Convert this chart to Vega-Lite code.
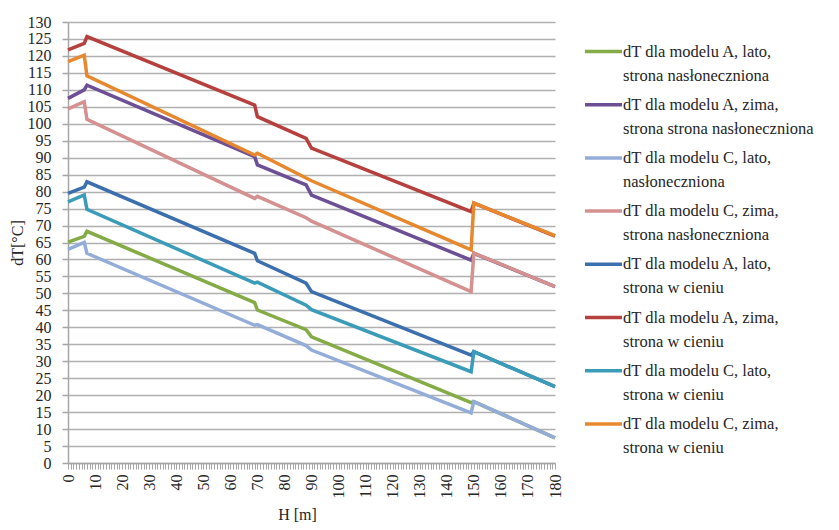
{
  "$schema": "https://vega.github.io/schema/vega-lite/v6.json",
  "width": 487,
  "height": 441,
  "autosize": {"type": "none"},
  "padding": {"left": 68, "top": 22, "right": 284, "bottom": 67},
  "background": "white",
  "config": {
    "view": {"stroke": null},
    "font": "'Liberation Serif', 'DejaVu Serif', serif",
    "axis": {"labelFont": "'Liberation Serif', 'DejaVu Serif', serif", "titleFont": "'Liberation Serif', 'DejaVu Serif', serif"},
    "legend": {"labelFont": "'Liberation Serif', 'DejaVu Serif', serif", "titleFont": "'Liberation Serif', 'DejaVu Serif', serif"}
  },
  "data": {"values": [
    {"H": 0, "a1": 65.1, "a2": 107.5, "a3": 63.0, "a4": 104.4, "a5": 79.5, "a6": 121.8, "a7": 77.0, "a8": 118.3},
    {"H": 6, "a1": 66.8, "a2": 110.0, "a3": 65.0, "a4": 106.5, "a5": 81.3, "a6": 123.7, "a7": 79.0, "a8": 120.2},
    {"H": 7, "a1": 68.3, "a2": 111.4, "a3": 61.8, "a4": 101.3, "a5": 82.9, "a6": 125.7, "a7": 74.8, "a8": 114.1},
    {"H": 69, "a1": 47.3, "a2": 90.3, "a3": 40.6, "a4": 78.0, "a5": 61.8, "a6": 105.5, "a7": 53.0, "a8": 90.8},
    {"H": 70, "a1": 45.1, "a2": 87.9, "a3": 40.8, "a4": 78.6, "a5": 59.6, "a6": 102.1, "a7": 53.3, "a8": 91.3},
    {"H": 88, "a1": 39.3, "a2": 82.0, "a3": 34.6, "a4": 72.3, "a5": 53.0, "a6": 95.7, "a7": 46.5, "a8": 84.0},
    {"H": 90, "a1": 37.2, "a2": 79.0, "a3": 33.3, "a4": 71.3, "a5": 50.5, "a6": 92.8, "a7": 45.2, "a8": 83.2},
    {"H": 149, "a1": 17.8, "a2": 59.8, "a3": 14.8, "a4": 50.5, "a5": 31.8, "a6": 74.1, "a7": 26.9, "a8": 62.8},
    {"H": 150, "a1": 18.1, "a2": 61.8, "a3": 18.1, "a4": 61.9, "a5": 32.8, "a6": 76.6, "a7": 32.8, "a8": 76.6},
    {"H": 180, "a1": 7.4, "a2": 52.0, "a3": 7.4, "a4": 52.0, "a5": 22.5, "a6": 66.9, "a7": 22.5, "a8": 67.0}
  ]},
  "transform": [
    {"fold": ["a1", "a2", "a3", "a4", "a5", "a6", "a7", "a8"], "as": ["series", "dT"]}
  ],
  "mark": {"type": "line", "strokeWidth": 3.5},
  "encoding": {
    "x": {
      "field": "H", "type": "quantitative",
      "scale": {"domain": [0, 180], "nice": false},
      "axis": {
        "title": "H [m]", "tickCount": 180,
        "labelExpr": "datum.value % 10 === 0 ? datum.label : ''",
        "labelAngle": 270, "labelOverlap": false, "labelFlush": false,
        "grid": false, "domainColor": "#a6a6a6", "domainWidth": 1.5,
        "tickColor": "#a6a6a6", "tickSize": 6, "tickWidth": 1,
        "labelPadding": 5, "labelFontSize": 16, "labelColor": "#262626",
        "titleFontSize": 16, "titleFontWeight": "normal", "titleColor": "#262626",
        "titlePadding": 8, "titleX": 229
      }
    },
    "y": {
      "field": "dT", "type": "quantitative",
      "scale": {"domain": [0, 130], "nice": false},
      "axis": {
        "title": "dT[°C]",
        "values": [0, 5, 10, 15, 20, 25, 30, 35, 40, 45, 50, 55, 60, 65, 70, 75, 80, 85, 90, 95, 100, 105, 110, 115, 120, 125, 130],
        "labelOverlap": false, "labelFlush": false,
        "grid": true, "gridColor": "#b0b0b0", "gridWidth": 1.5,
        "domainColor": "#a6a6a6", "domainWidth": 1.5,
        "tickColor": "#a6a6a6", "tickSize": 6, "tickWidth": 1.5,
        "labelPadding": 11, "labelFontSize": 16, "labelColor": "#262626",
        "titleFontSize": 16, "titleFontWeight": "normal", "titleColor": "#262626",
        "titlePadding": 2
      }
    },
    "color": {
      "field": "series", "type": "nominal",
      "scale": {
        "domain": ["a1", "a2", "a3", "a4", "a5", "a6", "a7", "a8"],
        "range": ["#84ab46", "#6c4f94", "#93acd8", "#d59090", "#3c6fad", "#b5403e", "#3a9cb8", "#e8882e"]
      },
      "legend": {
        "title": null, "orient": "none", "legendX": 515, "legendY": 9,
        "symbolType": "stroke", "symbolSize": 1369, "symbolStrokeWidth": 3.5,
        "labelOffset": -1, "labelFontSize": 16.5, "labelLimit": 300, "labelColor": "#262626",
        "rowPadding": 0.2,
        "labelExpr": "{'a1': ['dT dla modelu A, lato,', 'strona nasłoneczniona'], 'a2': ['dT dla modelu A, zima,', 'strona strona nasłoneczniona'], 'a3': ['dT dla modelu C, lato,', 'nasłoneczniona'], 'a4': ['dT dla modelu C, zima,', 'strona nasłoneczniona'], 'a5': ['dT dla modelu A, lato,', 'strona w cieniu'], 'a6': ['dT dla modelu A, zima,', 'strona w cieniu'], 'a7': ['dT dla modelu C, lato,', 'strona w cieniu'], 'a8': ['dT dla modelu C, zima,', 'strona w cieniu']}[datum.label]",
        "encode": {"labels": {"update": {"lineHeight": {"value": 24}}}}
      }
    }
  }
}
